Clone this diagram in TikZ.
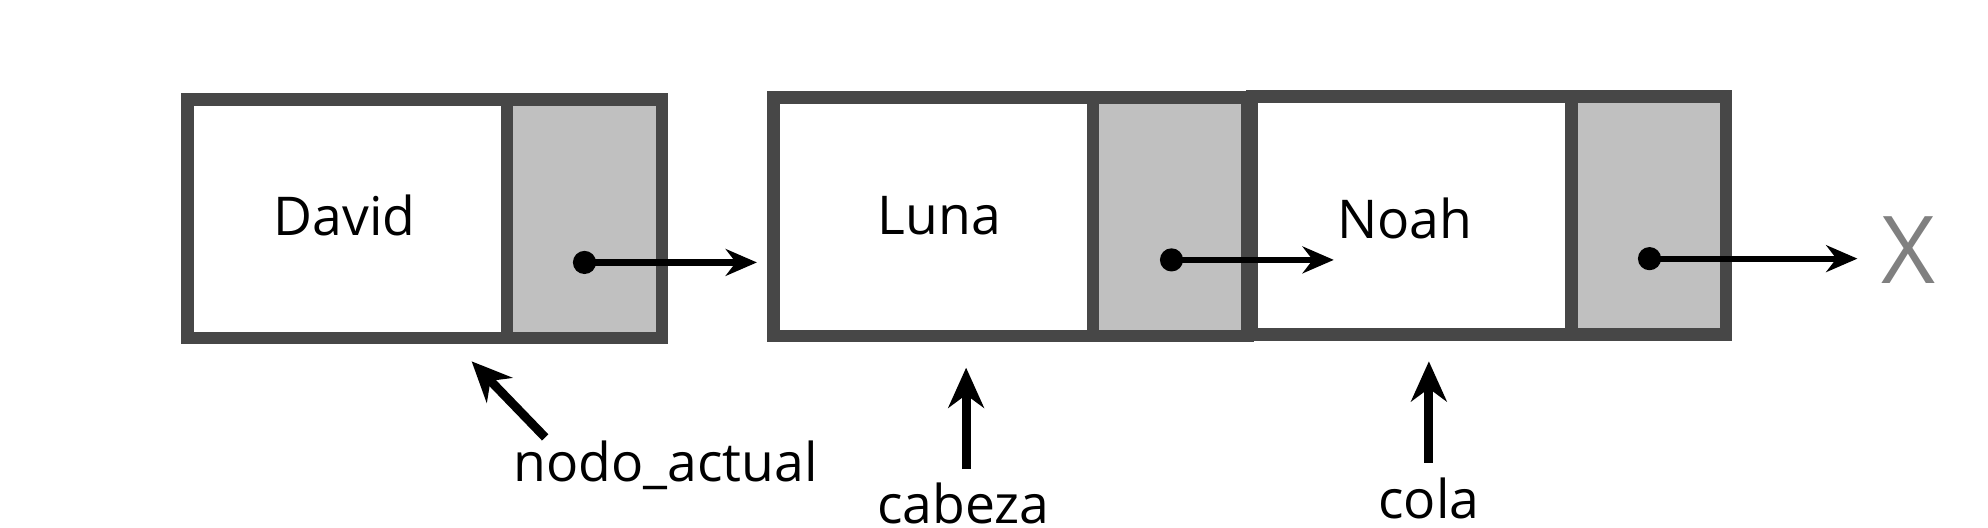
\documentclass[tikz,border=0pt]{standalone}
\usepackage{fontspec}
\setmainfont{Open Sans}
\usetikzlibrary{positioning,arrows.meta}
\definecolor{boxline}{HTML}{474747}
\definecolor{ptrfill}{HTML}{C0C0C0}
\tikzset{
  datacell/.style={draw=boxline, line width=2.8pt, fill=white, minimum width=2.52cm, minimum height=1.88cm, outer sep=0pt, inner sep=0pt},
  ptrcell/.style={draw=boxline, line width=2.8pt, fill=ptrfill, minimum width=1.22cm, minimum height=1.88cm, outer sep=0pt},
  ptrarrow/.style={-{Stealth[length=7pt,width=6pt]}, line width=1.4pt},
  tagarrow/.style={-{Stealth[length=9pt,width=8pt]}, line width=2pt},
  tag/.style={font=\fontsize{12}{14}\selectfont}
}
\begin{document}
\begin{tikzpicture}
        \useasboundingbox (0,0) rectangle (15.68,4.16);
        \foreach \i/\x/\y in {1/2.74/2.435, 2/7.36/2.45, 3/11.135/2.46}{
            \node[datacell] (d\i) at (\x,\y) {};
            \node[ptrcell, right=0pt of d\i] (p\i) {};
        }
        \node[tag] (n1) at (2.72,2.46) {David};
        \node[tag] (n2) at (7.41,2.46) {Luna};
        \node[tag] (n3) at (11.08,2.44) {Noah};
        \node[text=gray, font=\fontsize{21}{23}\selectfont] (nil) at (15.05,2.19) {X};
        % punteros
        \fill (4.61,2.09) circle (2.6pt) coordinate (c1);
        \fill (9.24,2.11) circle (2.6pt) coordinate (c2);
        \fill (13.01,2.12) circle (2.6pt) coordinate (c3);
        \coordinate (e3) at (14.65,2.12);
        \draw[ptrarrow] (c1) -- (5.97,2.09);
        \draw[ptrarrow] (c2) -- (10.52,2.11);
        \draw[ptrarrow] (c3) -- (e3);
        % etiquetas
        \node[tag] (t1) at (5.25,0.49) {nodo\_actual};
        \node[tag] (t2) at (7.60,0.19) {cabeza};
        \node[tag] (t3) at (11.27,0.23) {cola};
        \coordinate (a1) at (3.72,1.31);
        \draw[tagarrow] (4.30,0.71) -- (a1);
        \draw[tagarrow] (7.62,0.46) -- (7.62,1.26);
        \draw[tagarrow] (11.27,0.51) -- (11.27,1.31);
    \end{tikzpicture}
\end{document}
